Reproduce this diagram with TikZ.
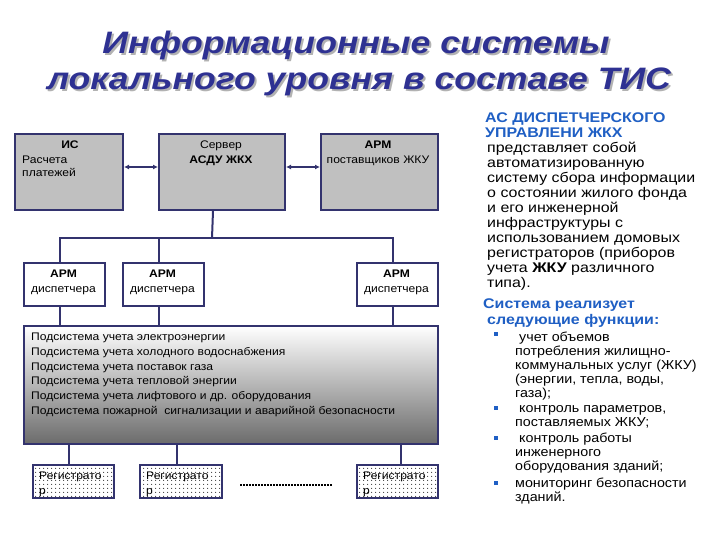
\documentclass[tikz,border=0pt]{standalone}
\usepackage{fontspec}
\setmainfont{Liberation Sans}
\newfontfamily\sfs[FakeStretch=1.1]{Liberation Sans}
\newfontfamily\rfs[FakeStretch=1.14]{Liberation Sans}
\newfontfamily\tfs[FakeStretch=1.15]{Liberation Sans}
\usetikzlibrary{arrows.meta,patterns.meta}
\definecolor{navy}{HTML}{33336E}
\definecolor{boxgray}{HTML}{C0C0C0}
\definecolor{titleblue}{HTML}{2E3192}
\definecolor{hblue}{HTML}{1F5FC4}
\newcommand{\shadowtext}[1]{\makebox[0pt][l]{\hspace*{2pt}\raisebox{-2pt}{\textcolor{black!30}{#1}}}#1}
\begin{document}
\begin{tikzpicture}[x=1pt,y=-1pt,
  ln/.style={draw=navy,line width=2pt},
  dbl/.style={draw=navy,line width=2pt,{Latex[length=5pt,width=5pt]}-{Latex[length=5pt,width=5pt]}},
  graybox/.style={draw=navy,line width=2pt,fill=boxgray,anchor=north west,inner sep=0pt},
  whitebox/.style={draw=navy,line width=2pt,fill=white,anchor=north west,inner sep=0pt},
  gradbox/.style={draw=navy,line width=2pt,top color=white,bottom color=black!58,anchor=north west,inner sep=0pt},
  regbox/.style={draw=navy,line width=2pt,fill=white,pattern color=black!75,postaction={pattern={Dots[distance=4pt,radius=0.7pt]}},anchor=north west,inner sep=0pt},
  btxt/.style={font=\sfs\fontsize{11}{13}\selectfont,inner sep=0pt,anchor=base west},
  ctxt/.style={font=\sfs\fontsize{11}{13}\selectfont,inner sep=0pt,anchor=base},
  ttl/.style={font=\tfs\bfseries\itshape\fontsize{31}{36}\selectfont,inner sep=0pt,anchor=base},
  rtxt/.style={font=\rfs\fontsize{14}{15}\selectfont,inner sep=0pt,anchor=base west},
  bltxt/.style={font=\sfs\fontsize{13}{14.2}\selectfont,inner sep=0pt,anchor=base west},
  bul/.style={fill=hblue,minimum size=3.5pt,inner sep=0pt}
]
\useasboundingbox[fill=white] (0,0) rectangle (720,540);

% title
\node[ttl,text=titleblue] (t1) at (356,54) {\shadowtext{Информационные системы}};
\node[ttl,text=titleblue] (t2) at (359,90) {\shadowtext{локального уровня в составе ТИС}};

% top boxes
\node[graybox,minimum width=108pt,minimum height=76pt] (is) at (14,133) {};
\node[graybox,minimum width=126pt,minimum height=76pt] (srv) at (158,133) {};
\node[graybox,minimum width=117pt,minimum height=76pt] (arm) at (320,133) {};
\node[ctxt,font=\sfs\bfseries\fontsize{11}{13}\selectfont] (isl1) at (70,149) {ИС};
\node[btxt] (isl2) at (22,164) {Расчета};
\node[btxt] (isl3) at (22,177) {платежей};
\node[ctxt] (srvl1) at (221,149) {Сервер};
\node[ctxt,font=\sfs\bfseries\fontsize{11}{13}\selectfont] (srvl2) at (221,164) {АСДУ ЖКХ};
\node[ctxt,font=\sfs\bfseries\fontsize{11}{13}\selectfont] (arml1) at (378,149) {АРМ};
\node[ctxt] (arml2) at (378,164) {поставщиков ЖКУ};

\draw[dbl] ([yshift=5pt]is.east) -- ([yshift=5pt]srv.west);
\draw[dbl] ([yshift=5pt]srv.east) -- ([yshift=5pt]arm.west);

% dispatcher boxes
\node[whitebox,minimum width=81pt,minimum height=43pt] (d1) at (23,262) {};
\node[whitebox,minimum width=81pt,minimum height=43pt] (d2) at (122,262) {};
\node[whitebox,minimum width=81pt,minimum height=43pt] (d3) at (356,262) {};
\foreach \n/\x in {d1/63.5,d2/162.5,d3/396.5}{
  \node[ctxt,font=\sfs\bfseries\fontsize{11}{13}\selectfont] (\n a) at (\x,277) {АРМ};
  \node[ctxt] (\n b) at (\x,292) {диспетчера};
}

\coordinate (bus) at (212,238);
\draw[ln] ([xshift=-9pt]srv.south) -- (bus);
\draw[ln] ([xshift=-4.5pt]d1.north) |- (bus) -| ([xshift=-4.5pt]d3.north);
\draw[ln] ([xshift=-4.5pt]d2.north) -- ([xshift=-4.5pt]d2.north |- bus);

% subsystem box
\node[gradbox,minimum width=414pt,minimum height=118pt] (sub) at (23,325) {};
\draw[ln] ([xshift=-4.5pt]d1.south) -- ([xshift=-4.5pt]d1.south |- sub.north);
\draw[ln] ([xshift=-4.5pt]d2.south) -- ([xshift=-4.5pt]d2.south |- sub.north);
\draw[ln] ([xshift=-4.5pt]d3.south) -- ([xshift=-4.5pt]d3.south |- sub.north);
\node[btxt] (s1) at (31,340.7) {Подсистема учета электроэнергии};
\node[btxt] (s2) at (31,355.4) {Подсистема учета холодного водоснабжения};
\node[btxt] (s3) at (31,370.1) {Подсистема учета поставок газа};
\node[btxt] (s4) at (31,384.8) {Подсистема учета тепловой энергии};
\node[btxt] (s5) at (31,399.5) {Подсистема учета лифтового и др. оборудования};
\node[btxt] (s6) at (31,414.2) {Подсистема пожарной\ \ сигнализации и аварийной безопасности};

% registrators
\node[regbox,minimum width=81pt,minimum height=33pt] (r1) at (32,464) {};
\node[regbox,minimum width=82pt,minimum height=33pt] (r2) at (139,464) {};
\node[regbox,minimum width=81pt,minimum height=33pt] (r3) at (356,464) {};
\draw[ln] ([xshift=-4.5pt]r1.north |- sub.south) -- ([xshift=-4.5pt]r1.north);
\draw[ln] ([xshift=-4pt]r2.north |- sub.south) -- ([xshift=-4pt]r2.north);
\draw[ln] ([xshift=3.5pt]r3.north |- sub.south) -- ([xshift=3.5pt]r3.north);
\foreach \n/\x in {r1/39,r2/146,r3/363}{
  \node[btxt] (\n a) at (\x,479) {Регистрато};
  \node[btxt] (\n b) at (\x,494) {р};
}
\coordinate (dl) at (240,485);
\coordinate (dr) at (333,485);
\draw[line width=2pt,dash pattern=on 1.5pt off 1.5pt] (dl) -- (dr);

% right text
\node[rtxt,text=hblue] (h1) at (485,123) {\parbox[t]{235pt}{\bfseries АС ДИСПЕТЧЕРСКОГО\\УПРАВЛЕНИ ЖКХ}};
\node[rtxt] (body) at (487,153) {\parbox[t]{235pt}{представляет собой\\автоматизированную\\систему сбора информации\\о состоянии жилого фонда\\и его инженерной\\инфраструктуры с\\использованием домовых\\регистраторов (приборов\\учета {\bfseries ЖКУ} различного\\типа).}};
\node[rtxt,text=hblue] (h2) at (483,308) {\bfseries Система реализует};
\node[rtxt,text=hblue] (h3) at (487,324) {\bfseries следующие функции:};

\node[bul] (b1) at (496,334) {};
\node[bul] (b2) at (496,408) {};
\node[bul] (b3) at (496,438) {};
\node[bul] (b4) at (496,483) {};
\node[bltxt] (i1) at (515,341) {\parbox[t]{210pt}{\hspace*{4pt}учет объемов\\потребления жилищно-\\коммунальных услуг (ЖКУ)\\(энергии, тепла, воды,\\газа);}};
\node[bltxt] (i2) at (515,412) {\parbox[t]{210pt}{\hspace*{4pt}контроль параметров,\\поставляемых ЖКУ;}};
\node[bltxt] (i3) at (515,442) {\parbox[t]{210pt}{\hspace*{4pt}контроль работы\\инженерного\\оборудования зданий;}};
\node[bltxt] (i4) at (515,487) {\parbox[t]{210pt}{мониторинг безопасности\\зданий.}};
\end{tikzpicture}
\end{document}
